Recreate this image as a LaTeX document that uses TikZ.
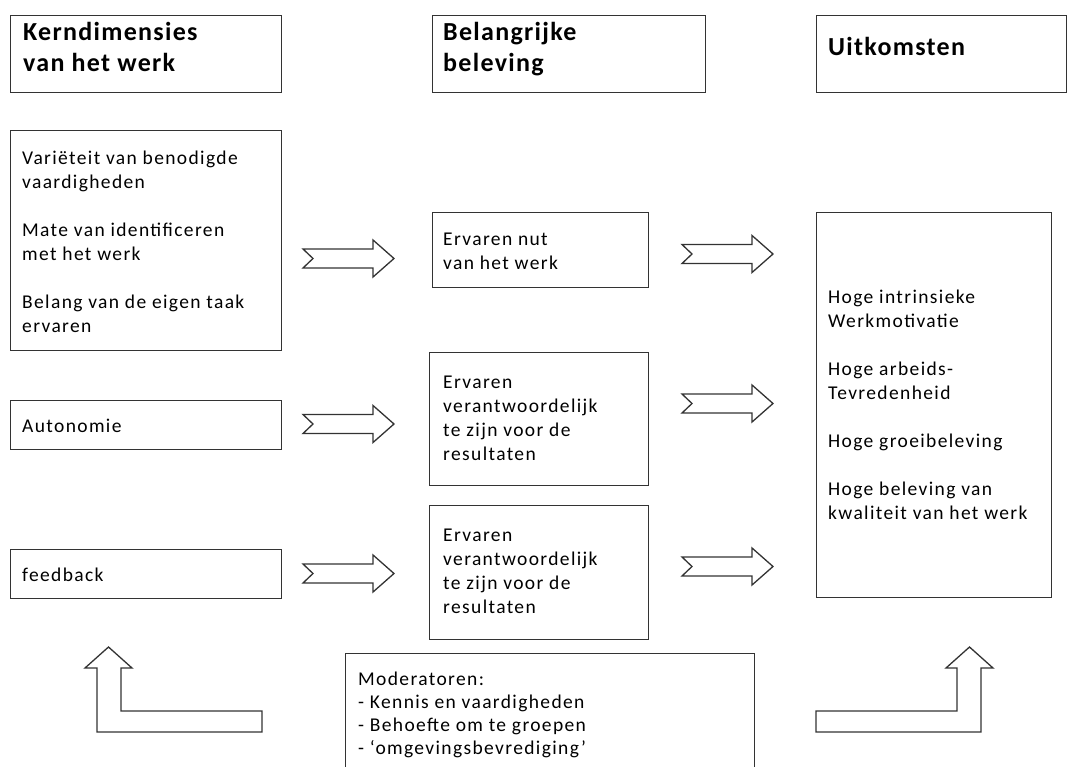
\documentclass[tikz,border=0pt]{standalone}
\usepackage{fontspec}
\setmainfont{Carlito}
\newfontfamily\bodyface[LetterSpace=7]{Carlito}
\newfontfamily\hdrface[LetterSpace=5]{Carlito}
\newcommand\bodyfnt{\bodyface\fontsize{19.5}{24}\selectfont}
\newcommand\modfnt{\bodyface\fontsize{19.5}{23}\selectfont}
\newcommand\hdrfnt{\hdrface\fontsize{26}{31}\selectfont\bfseries}
\tikzset{
  box/.style={draw=black!80, line width=1.3pt, fill=white, inner sep=0pt, anchor=north west},
  txt/.style={anchor=north west, inner sep=0pt, align=left, font=\bodyfnt, yshift=16.8pt, text=black},
  modtxt/.style={anchor=north west, inner sep=0pt, align=left, font=\modfnt, yshift=16.1pt, text=black},
  hdrtxt/.style={anchor=north west, inner sep=0pt, align=left, font=\hdrfnt, yshift=21.7pt},
  blk/.style={draw=black!80, line width=1.3pt, fill=white, line join=miter},
  pics/barrow/.style={code={
    \draw[blk] (0,-9.5) -- (70,-9.5) -- (70,-18.5) -- (91,0) -- (70,18.5) -- (70,9.5) -- (0,9.5) -- (10,0) -- cycle;
  }}
}
\begin{document}
\begin{tikzpicture}[x=1pt,y=-1pt]
\useasboundingbox[fill=white] (0,0) rectangle (1076,767);
% header boxes
\node[box, minimum width=271pt, minimum height=77pt] (h1) at (10,15) {};
\node[box, minimum width=273pt, minimum height=77pt] (h2) at (432,15) {};
\node[box, minimum width=250pt, minimum height=77pt] (h3) at (816,15) {};
\node[hdrtxt] (h1t) at (23,40) {\strut Kerndimensies\\van het werk};
\node[hdrtxt] (h2t) at (443,40) {\strut Belangrijke\\beleving};
\node[hdrtxt] (h3t) at (828,55) {\strut Uitkomsten};
% left column
\node[box, minimum width=271pt, minimum height=220pt] (l1) at (10,130) {};
\node[box, minimum width=271pt, minimum height=49pt] (l2) at (10,400) {};
\node[box, minimum width=271pt, minimum height=49pt] (l3) at (10,549) {};
\node[txt] (l1t) at (22,164) {\strut Variëteit van benodigde\\vaardigheden\\[24pt]Mate van identificeren\\met het werk\\[24pt]Belang van de eigen taak\\ervaren};
\node[txt] (l2t) at (22,432) {\strut Autonomie};
\node[txt] (l3t) at (22,581) {\strut feedback};
% middle column
\node[box, minimum width=216pt, minimum height=75pt] (m1) at (432,212) {};
\node[box, minimum width=219pt, minimum height=133pt] (m2) at (429,352) {};
\node[box, minimum width=219pt, minimum height=134pt] (m3) at (429,505) {};
\node[txt] (m1t) at (443,245) {\strut Ervaren nut\\van het werk};
\node[txt] (m2t) at (443,388) {\strut Ervaren\\verantwoordelijk\\te zijn voor de\\resultaten};
\node[txt] (m3t) at (443,541) {\strut Ervaren\\verantwoordelijk\\te zijn voor de\\resultaten};
% right column
\node[box, minimum width=235pt, minimum height=385pt] (r1) at (816,212) {};
\node[txt] (r1t) at (828,303) {\strut Hoge intrinsieke\\Werkmotivatie\\[24pt]Hoge arbeids-\\Tevredenheid\\[24pt]Hoge groeibeleving\\[24pt]Hoge beleving van\\kwaliteit van het werk};
% moderators
\node[box, minimum width=409pt, minimum height=140pt] (mod) at (345,653) {};
\node[modtxt] (modt) at (358,685) {\strut Moderatoren:\\- Kennis en vaardigheden\\- Behoefte om te groepen\\- ‘omgevingsbevrediging’};
% block arrows
\pic at (303,258.5) {barrow};
\pic at (303,424) {barrow};
\pic at (303,573.5) {barrow};
\pic at (682,254) {barrow};
\pic at (682,403.5) {barrow};
\pic at (682,566.5) {barrow};
% L-shaped arrows
\draw[blk] (97,732) -- (97,668) -- (85,668) -- (108.5,647) -- (132,668) -- (121,668) -- (121,711) -- (262,711) -- (262,732) -- cycle;
\draw[blk] (816,732) -- (816,711) -- (957,711) -- (957,668) -- (946,668) -- (969.5,647) -- (993,668) -- (981,668) -- (981,732) -- cycle;
\end{tikzpicture}
\end{document}
